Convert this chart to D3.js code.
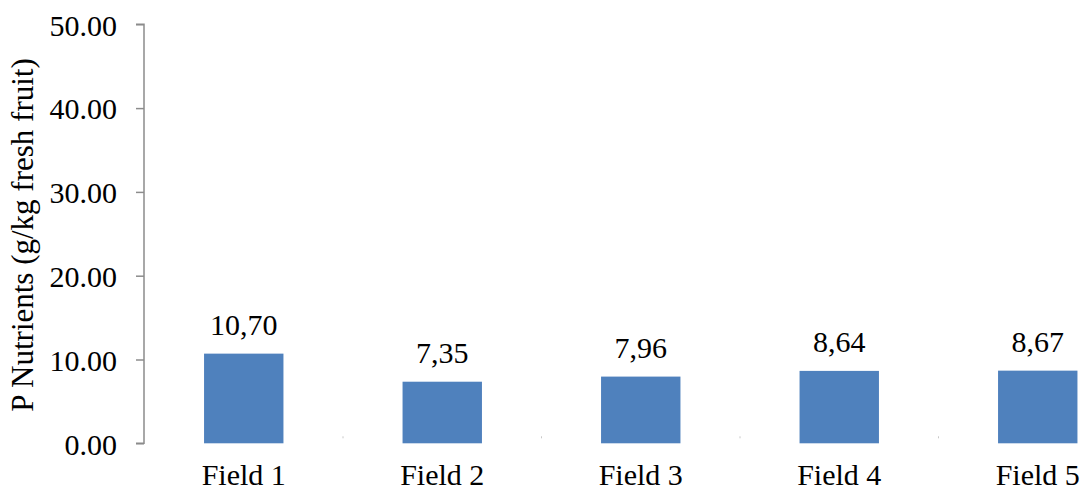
<!DOCTYPE html>
<html>
<head>
<meta charset="utf-8">
<script src="https://cdn.jsdelivr.net/npm/d3@7"></script>
<style>
  html, body { margin: 0; padding: 0; background: #fff; }
  svg { display: block; }
  svg text { font-family: "Liberation Serif", Tinos, "Times New Roman", Times, "DejaVu Serif", serif !important; fill: #000; }
</style>
</head>
<body>
<svg id="chart" width="1084" height="490"></svg>
<script>
// Phosphorus content per field
const fields = ["Field 1", "Field 2", "Field 3", "Field 4", "Field 5"];
const values = [10.70, 7.35, 7.96, 8.64, 8.67];
const valueLabels = ["10,70", "7,35", "7,96", "8,64", "8,67"];
const yTicks = [0, 10, 20, 30, 40, 50];
const yTitle = "P Nutrients (g/kg fresh fruit)";

const svg = d3.select("#chart");
const axisX = 144;
const y = d3.scaleLinear().domain([0, 50]).range([443.3, 24.3]);
const x = d3.scaleBand().domain(fields).range([144.5, 1137])
  .paddingInner(0.6).paddingOuter(0.3);

// Bars
svg.append("g").selectAll("rect").data(values).join("rect")
  .attr("x", (d, i) => x(fields[i]))
  .attr("y", d => y(d))
  .attr("width", x.bandwidth())
  .attr("height", d => y(0) - y(d))
  .attr("fill", "#4f81bd");

// Value labels above bars
svg.append("g").selectAll("text").data(values).join("text")
  .attr("x", (d, i) => x(fields[i]) + x.bandwidth() / 2)
  .attr("y", d => y(d) - 19)
  .attr("text-anchor", "middle")
  .style("font-size", "30px")
  .text((d, i) => valueLabels[i]);

// Y axis
const yAxis = d3.axisLeft(y).tickValues(yTicks).tickSize(8).tickPadding(19)
  .tickFormat(d3.format(".2f"));
const gy = svg.append("g").attr("transform", `translate(${axisX},0)`).call(yAxis)
  .attr("font-family", null).attr("font-size", null);
gy.select(".domain").attr("stroke", "#8c8c8c").attr("stroke-width", 1.5)
  .attr("d", `M-8,${y(50)}H0V${y(0)}H-8`);
gy.selectAll(".tick line").attr("stroke", "#8c8c8c").attr("stroke-width", 1.5);
gy.selectAll(".tick text")
  .attr("dy", "0.36em")
  .style("font-size", "30px")
  .attr("fill", "#000");

// X category labels (no visible baseline)
const xAxis = d3.axisBottom(x).tickSize(0).tickPadding(0);
const gx = svg.append("g").attr("transform", `translate(0,${y(0)})`).call(xAxis)
  .attr("font-family", null).attr("font-size", null);
gx.select(".domain").remove();
gx.selectAll(".tick text")
  .attr("y", 41.5).attr("dy", 0)
  .style("font-size", "30px")
  .attr("fill", "#000");

// Faint separators between categories
svg.append("g").selectAll("line").data(fields.slice(1)).join("line")
  .attr("x1", d => x(d) - x.step() * x.paddingInner() / 2)
  .attr("x2", d => x(d) - x.step() * x.paddingInner() / 2)
  .attr("y1", y(0) - 7).attr("y2", y(0) - 5)
  .attr("stroke", "#c8c8c8").attr("stroke-width", 1);

// Y axis title
svg.append("text")
  .attr("transform", `translate(33,235) rotate(-90)`)
  .attr("text-anchor", "middle")
  .style("font-size", "31px")
  .text(yTitle);
</script>
</body>
</html>
